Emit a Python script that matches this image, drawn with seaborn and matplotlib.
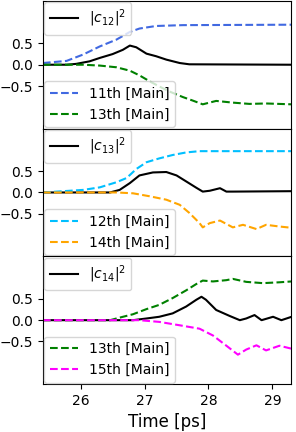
import matplotlib
matplotlib.use("Agg")
import matplotlib.pyplot as plt
import seaborn as sns

# --- panel 1: |c12|^2 with 11th / 13th ---
t_c12 = [25.41, 25.78, 25.93, 26.14, 26.30, 26.50, 26.66, 26.77, 26.87, 27.03, 27.18, 27.34, 27.55, 27.70, 29.30]
c12 = [0.0, 0.0, 0.02, 0.08, 0.16, 0.25, 0.35, 0.45, 0.41, 0.26, 0.20, 0.12, 0.04, 0.01, 0.0]
t_11 = [25.41, 25.78, 26.04, 26.30, 26.56, 26.77, 26.92, 27.18, 27.60, 29.30]
v_11 = [0.04, 0.09, 0.24, 0.43, 0.59, 0.77, 0.85, 0.91, 0.93, 0.94]
t_13a = [25.41, 26.04, 26.30, 26.56, 26.77, 26.92, 27.08, 27.23, 27.39, 27.60, 27.75, 27.91, 28.12, 28.38, 28.64, 28.90, 29.30]
v_13a = [0.0, 0.0, -0.02, -0.06, -0.14, -0.25, -0.39, -0.51, -0.63, -0.76, -0.84, -0.93, -0.85, -0.89, -0.92, -0.91, -0.93]

# --- panel 2: |c13|^2 with 12th / 14th ---
t_c13 = [25.41, 26.46, 26.61, 26.77, 26.92, 27.13, 27.34, 27.50, 27.65, 27.81, 27.91, 28.02, 28.18, 28.28, 28.38, 29.30]
c13 = [0.0, 0.0, 0.06, 0.22, 0.40, 0.47, 0.48, 0.40, 0.26, 0.11, 0.02, 0.04, 0.10, 0.02, 0.02, 0.03]
t_12 = [25.41, 26.04, 26.30, 26.56, 26.72, 26.87, 27.03, 27.23, 27.44, 27.65, 27.86, 29.30]
v_12 = [0.0, 0.06, 0.12, 0.24, 0.34, 0.55, 0.71, 0.80, 0.88, 0.94, 0.97, 0.97]
t_14 = [25.41, 26.56, 26.82, 27.08, 27.34, 27.55, 27.70, 27.86, 27.91, 28.02, 28.18, 28.38, 28.54, 28.75, 28.90, 29.11, 29.30]
v_14 = [0.0, 0.0, -0.02, -0.09, -0.17, -0.29, -0.48, -0.72, -0.82, -0.72, -0.66, -0.82, -0.76, -0.86, -0.76, -0.80, -0.83]

# --- panel 3: |c14|^2 with 13th / 15th ---
t_c14 = [25.41, 26.82, 27.03, 27.23, 27.44, 27.65, 27.81, 27.89, 27.96, 28.12, 28.33, 28.49, 28.59, 28.72, 28.83, 29.01, 29.14, 29.30]
c14 = [0.0, 0.0, 0.04, 0.08, 0.16, 0.32, 0.48, 0.55, 0.48, 0.24, 0.10, 0.0, 0.04, 0.12, 0.0, 0.08, 0.0, 0.08]
t_13b = [25.41, 26.46, 26.61, 26.82, 27.03, 27.23, 27.44, 27.65, 27.81, 27.91, 28.07, 28.28, 28.38, 28.59, 28.85, 29.11, 29.30]
v_13b = [0.0, 0.0, 0.06, 0.14, 0.26, 0.36, 0.52, 0.70, 0.85, 0.93, 0.91, 0.94, 0.97, 0.90, 0.87, 0.89, 0.91]
t_15 = [25.41, 26.92, 27.23, 27.55, 27.86, 28.07, 28.28, 28.46, 28.59, 28.75, 28.90, 29.11, 29.30]
v_15 = [0.0, 0.0, -0.04, -0.12, -0.20, -0.36, -0.60, -0.81, -0.69, -0.59, -0.71, -0.60, -0.67]

panels = [
    (t_c12, c12, r'$|c_{12}|^2$', [(t_11, v_11, 'royalblue', '11th [Main]'), (t_13a, v_13a, 'green', '13th [Main]')]),
    (t_c13, c13, r'$|c_{13}|^2$', [(t_12, v_12, 'deepskyblue', '12th [Main]'), (t_14, v_14, 'orange', '14th [Main]')]),
    (t_c14, c14, r'$|c_{14}|^2$', [(t_13b, v_13b, 'green', '13th [Main]'), (t_15, v_15, 'magenta', '15th [Main]')]),
]

fig, axes = plt.subplots(3, 1, figsize=(2.96, 4.32), dpi=100, sharex=True)
fig.subplots_adjust(left=0.145, right=0.983, top=0.998, bottom=0.111, hspace=0)

for ax, (tc, c, clabel, others) in zip(axes, panels):
    sns.lineplot(x=tc, y=c, ax=ax, color='black', linewidth=1.5)
    dashed = []
    for t, v, col, lab in others:
        sns.lineplot(x=t, y=v, ax=ax, color=col, linestyle='--', linewidth=1.5)
        dashed.append((ax.get_lines()[-1], lab))
    black = ax.get_lines()[0]
    leg1 = ax.legend([black], [clabel], loc='upper left', fontsize=10, borderaxespad=0.1)
    ax.add_artist(leg1)
    ax.legend([d[0] for d in dashed], [d[1] for d in dashed], loc='lower left',
              fontsize=10, borderaxespad=0.1)
    ax.set_ylim(-1.5, 1.5)
    ax.set_yticks([-0.5, 0.0, 0.5])
    ax.set_xlim(25.41, 29.29)

axes[-1].set_xticks([26, 27, 28, 29])
axes[-1].set_xlabel('Time [ps]', fontsize=12)

fig.savefig('out.png', dpi=100)
